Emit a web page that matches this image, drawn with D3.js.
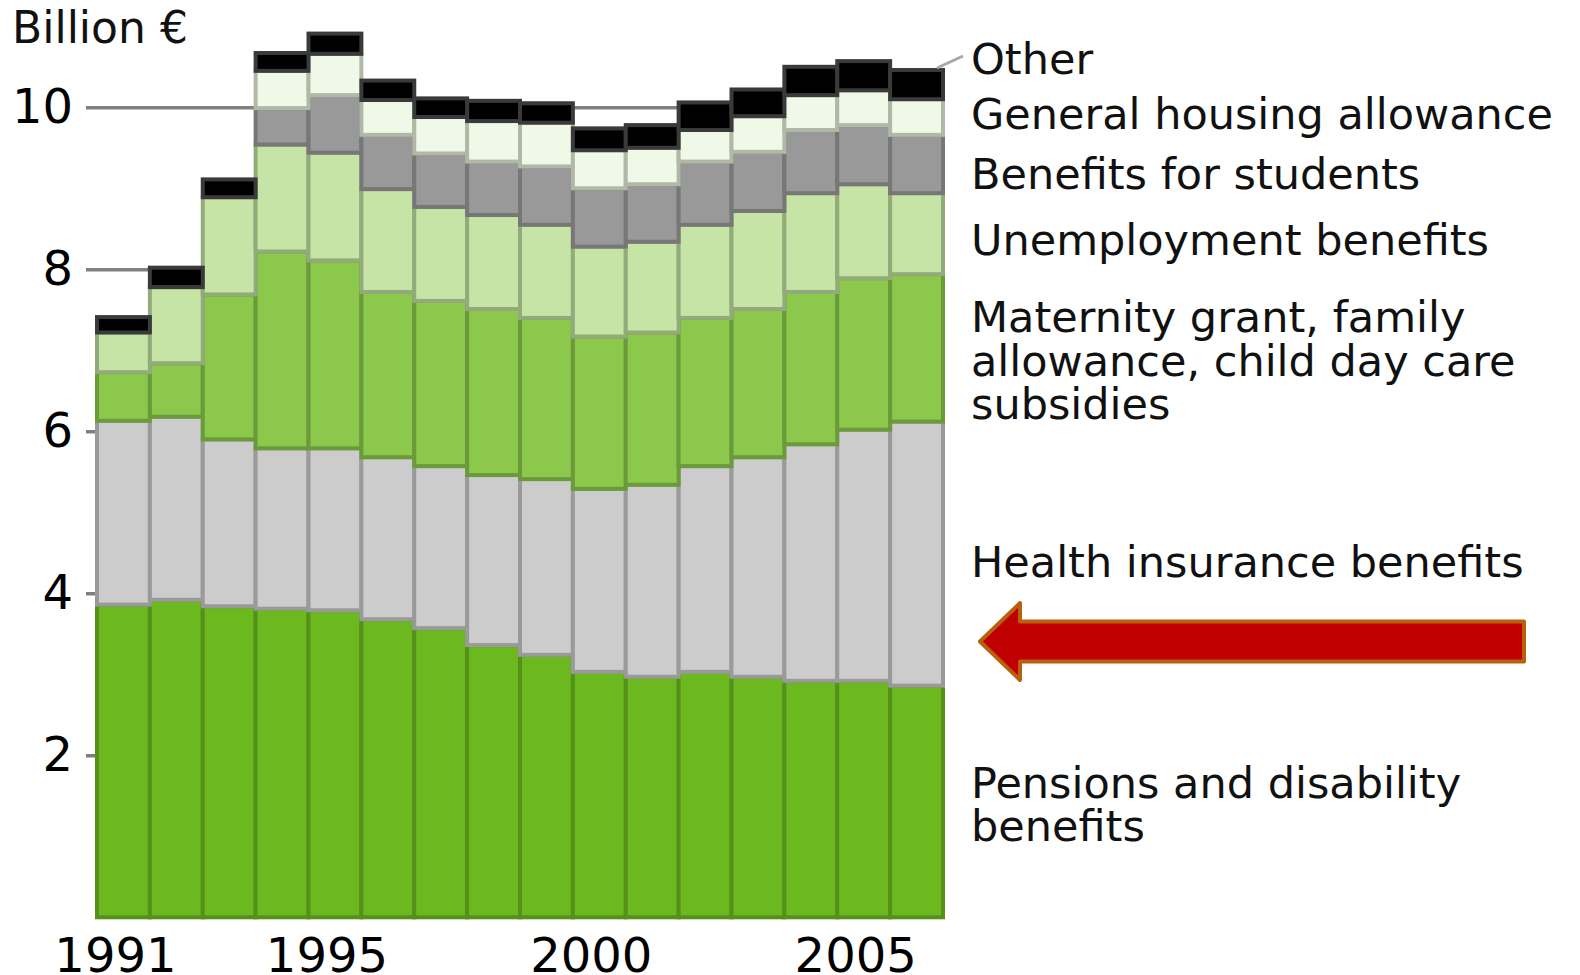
<!DOCTYPE html>
<html>
<head>
<meta charset="utf-8">
<script src="https://cdn.jsdelivr.net/npm/d3@7/dist/d3.min.js"></script>
<style>
  html, body { margin: 0; padding: 0; background: #ffffff; }
  svg { display: block; font-family: "DejaVu Sans", Verdana, sans-serif; }
</style>
</head>
<body>
<svg id="chart" width="1580" height="975"></svg>
<script>
// Social benefits by type, billion euros, 1991-2006
const years = [1991, 1992, 1993, 1994, 1995, 1996, 1997, 1998, 1999, 2000, 2001, 2002, 2003, 2004, 2005, 2006];
const pensions     = [3.86, 3.92, 3.84, 3.81, 3.79, 3.68, 3.57, 3.36, 3.24, 3.03, 2.97, 3.03, 2.97, 2.92, 2.92, 2.86];
const health       = [2.27, 2.26, 2.06, 1.98, 2.00, 2.00, 2.00, 2.10, 2.17, 2.26, 2.37, 2.54, 2.71, 2.92, 3.10, 3.26];
const maternity    = [0.60, 0.66, 1.79, 2.43, 2.32, 2.04, 2.04, 2.05, 1.99, 1.88, 1.88, 1.83, 1.83, 1.88, 1.87, 1.82];
const unemployment = [0.49, 0.94, 1.20, 1.32, 1.33, 1.27, 1.16, 1.16, 1.15, 1.11, 1.12, 1.15, 1.21, 1.22, 1.16, 1.00];
const students     = [0, 0, 0, 0.45, 0.71, 0.67, 0.66, 0.66, 0.72, 0.72, 0.71, 0.78, 0.73, 0.78, 0.73, 0.72];
const housing      = [0, 0, 0, 0.46, 0.51, 0.43, 0.45, 0.50, 0.54, 0.47, 0.45, 0.39, 0.44, 0.43, 0.43, 0.44];
const other        = [0.19, 0.24, 0.22, 0.22, 0.25, 0.24, 0.23, 0.25, 0.24, 0.27, 0.28, 0.34, 0.33, 0.35, 0.36, 0.36];

const yTicks = [2, 4, 6, 8, 10];
const xTicks = [1991, 1995, 2000, 2005];
const unitLabel = "Billion €";

const seriesKeys = ["pensions", "health", "maternity", "unemployment", "students", "housing", "other"];
const seriesValues = { pensions, health, maternity, unemployment, students, housing, other };
const seriesLabels = {
  other: ["Other"],
  housing: ["General housing allowance"],
  students: ["Benefits for students"],
  unemployment: ["Unemployment benefits"],
  maternity: ["Maternity grant, family", "allowance, child day care", "subsidies"],
  health: ["Health insurance benefits"],
  pensions: ["Pensions and disability", "benefits"]
};

// styling
const fills   = { pensions: "#6cb81f", health: "#cccccc", maternity: "#8bc84c", unemployment: "#c6e4a6", students: "#999999", housing: "#f0f8e8", other: "#000000" };
const strokes = { pensions: "#54911a", health: "#9a9a9a", maternity: "#6b9a3b", unemployment: "#93ab7a", students: "#777777", housing: "#b0b9a6", other: "#3a3a3a" };
const labelBaselines = { other: [74], housing: [129], students: [189], unemployment: [255], maternity: [332, 376, 419], health: [577], pensions: [798, 841] };

const left = 97, right = 943, bottom = 917.3, top10 = 107.3;

const rows = years.map((yr, i) => {
  const r = { year: yr };
  seriesKeys.forEach(k => r[k] = seriesValues[k][i]);
  return r;
});

const x = d3.scaleBand().domain(years).range([left, right]).padding(0);
const y = d3.scaleLinear().domain([0, 10]).range([bottom, top10]);

const svg = d3.select("#chart");

// gridlines + y labels
const yAxis = svg.append("g")
  .attr("transform", `translate(${right},0)`)
  .call(d3.axisLeft(y).tickValues(yTicks).tickSize(right - 86).tickPadding(13).tickFormat(d3.format("d")));
yAxis.select(".domain").remove();
yAxis.selectAll(".tick line").attr("stroke", "#808080").attr("stroke-width", 3.5);
yAxis.selectAll(".tick text").attr("fill", "#000").style("font-size", "48px").style("font-family", "DejaVu Sans");

// stacked bars
const stack = d3.stack().keys(seriesKeys)(rows);
const layers = svg.append("g").selectAll("g")
  .data(stack)
  .join("g")
  .attr("fill", d => fills[d.key])
  .attr("stroke", d => strokes[d.key])
  .attr("stroke-width", 4);

layers.selectAll("rect")
  .data(d => d.filter(s => s[1] - s[0] > 0))
  .join("rect")
  .attr("x", d => x(d.data.year))
  .attr("width", x.bandwidth())
  .attr("y", d => y(d[1]))
  .attr("height", d => y(d[0]) - y(d[1]));

// x axis labels
const xAxis = svg.append("g")
  .attr("transform", `translate(0,${bottom})`)
  .call(d3.axisBottom(x).tickValues(xTicks).tickSize(0).tickPadding(21));
xAxis.select(".domain").remove();
xAxis.selectAll(".tick text")
  .attr("dx", -8)
  .attr("fill", "#000")
  .style("font-size", "48px")
  .style("font-family", "DejaVu Sans");

// unit label
svg.append("text")
  .attr("x", 12).attr("y", 43)
  .style("font-size", "44px")
  .attr("fill", "#111")
  .text(unitLabel);

// series labels on the right
const legend = svg.append("g").style("font-size", "43px").attr("fill", "#111");
seriesKeys.forEach(k => {
  seriesLabels[k].forEach((line, j) => {
    legend.append("text")
      .attr("x", 971)
      .attr("y", labelBaselines[k][j])
      .text(line);
  });
});

// leader from the last "Other" segment to its label
svg.append("line")
  .attr("x1", right - 6).attr("y1", 68)
  .attr("x2", 963).attr("y2", 56)
  .attr("stroke", "#a8a8a8").attr("stroke-width", 3);

// red arrow pointing at the health insurance segment
const ax0 = 980, ax1 = 1524, ay = 641.5, headW = 40, headH = 38.5, shaftH = 20;
svg.append("path")
  .attr("d", `M${ax0},${ay} L${ax0 + headW},${ay - headH} L${ax0 + headW},${ay - shaftH} L${ax1},${ay - shaftH} L${ax1},${ay + shaftH} L${ax0 + headW},${ay + shaftH} L${ax0 + headW},${ay + headH} Z`)
  .attr("fill", "#c00000")
  .attr("stroke", "#b8600c")
  .attr("stroke-width", 4)
  .attr("stroke-linejoin", "round");
</script>
</body>
</html>
